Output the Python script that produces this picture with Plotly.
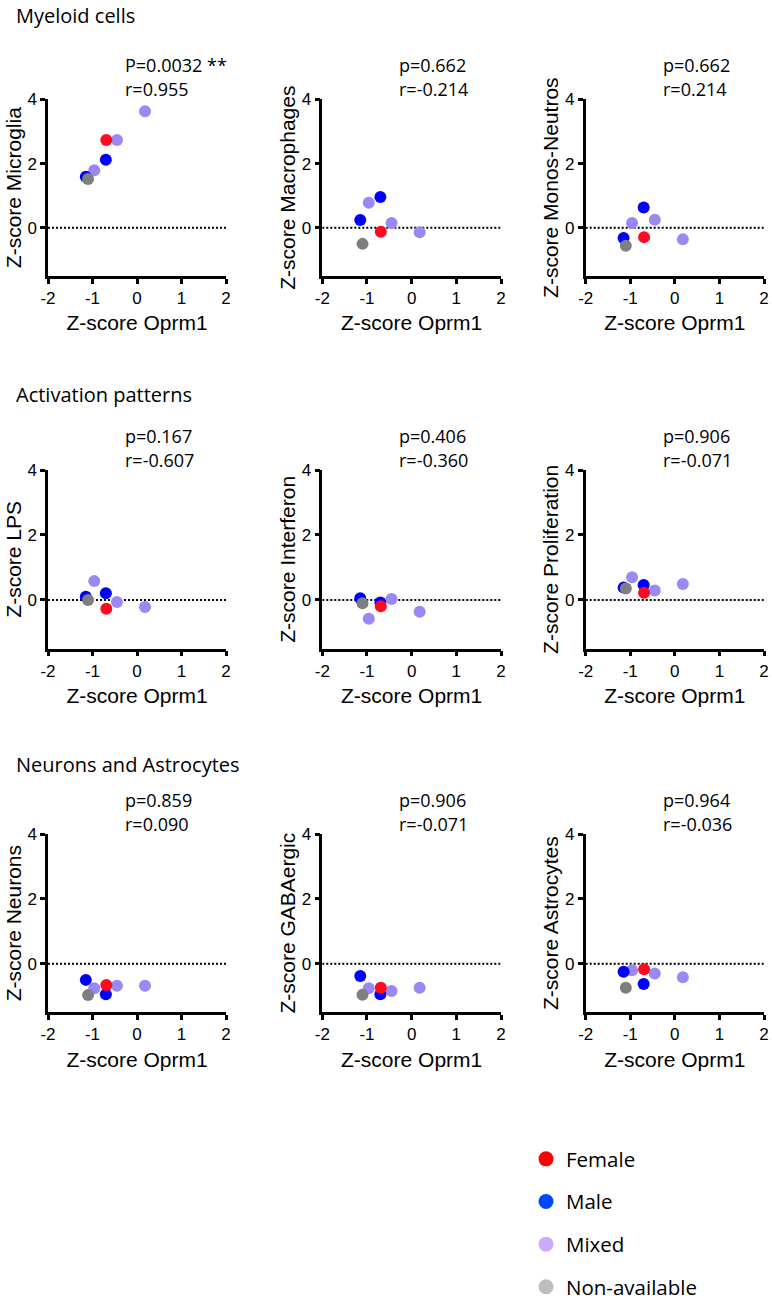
import plotly.graph_objects as go

W, H = 772, 1302

# ---------------- data ----------------
section_titles = ["Myeloid cells", "Activation patterns", "Neurons and Astrocytes"]
panel_names = ["Microglia", "Macrophages", "Monos-Neutros",
               "LPS", "Interferon", "Proliferation",
               "Neurons", "GABAergic", "Astrocytes"]
p_labels = ["P=0.0032 **", "p=0.662", "p=0.662",
            "p=0.167", "p=0.406", "p=0.906",
            "p=0.859", "p=0.906", "p=0.964"]
r_labels = ["r=0.955", "r=-0.214", "r=0.214",
            "r=-0.607", "r=-0.360", "r=-0.071",
            "r=0.090", "r=-0.071", "r=-0.036"]

# Z-score Oprm1 (x) per sample group
oprm1_female = [-0.69]
oprm1_male = [-1.15, -0.70]
oprm1_mixed = [-0.96, -0.45, 0.18]
oprm1_na = [-1.10]

# Z-score of each signature (y), one list per panel
z_female = [[2.73], [-0.12], [-0.29],
            [-0.27], [-0.19], [0.22],
            [-0.66], [-0.74], [-0.17]]
z_male = [[1.59, 2.12], [0.24, 0.96], [-0.32, 0.63],
          [0.10, 0.21], [0.05, -0.08], [0.38, 0.46],
          [-0.50, -0.94], [-0.38, -0.94], [-0.25, -0.63]]
z_mixed = [[1.79, 2.73, 3.63], [0.78, 0.15, -0.14], [0.15, 0.25, -0.36],
           [0.58, -0.06, -0.22], [-0.58, 0.03, -0.36], [0.70, 0.29, 0.49],
           [-0.76, -0.68, -0.68], [-0.76, -0.84, -0.74], [-0.20, -0.30, -0.42]]
z_na = [[1.52], [-0.50], [-0.56],
        [0.00], [-0.10], [0.35],
        [-0.97], [-0.96], [-0.74]]

legend_names = ["Female", "Male", "Mixed", "Non-available"]
legend_colors = ["#FF0000", "#0048FF", "#CBAAFD", "#BDBDBD"]
point_colors = {"Mixed": "#9A88F3", "Male": "#0000FF", "Female": "#FF0A1E", "NA": "#7F7F7F"}

x_ticks = [-2, -1, 0, 1, 2]
x_ticktext = ["-2", "-1", "0", "1", "2"]
y_ticks = [0, 2, 4]

# ---------------- layout geometry (pixels) ----------------
cols_px = [(48, 226), (322.3, 501), (585.7, 764)]
rows_px = [(99.3, 276), (470, 648.7), (834, 1012.3)]
section_y_px = [15, 394, 764]

AXFONT = "Liberation Sans, Arial, sans-serif"
TXTFONT = "Open Sans, Noto Sans, sans-serif"

fig = go.Figure()
layout = dict(width=W, height=H, margin=dict(l=0, r=0, t=0, b=0, autoexpand=False),
              plot_bgcolor="white", paper_bgcolor="white", showlegend=True)
shapes, annotations = [], []

for i, name in enumerate(panel_names):
    r, c = divmod(i, 3)
    x0, x1 = cols_px[c]
    y0, y1 = rows_px[r]
    k = "" if i == 0 else str(i + 1)
    xa, ya = "x" + k, "y" + k
    layout["xaxis" + k] = dict(
        domain=[x0 / W, x1 / W], anchor=ya, range=[-2, 2],
        tickvals=x_ticks, ticktext=x_ticktext,
        showline=True, linecolor="black", linewidth=2.5,
        ticks="outside", ticklen=5, tickwidth=2.5, tickcolor="black",
        showgrid=False, zeroline=False, automargin=False,
        tickfont=dict(family=AXFONT, size=17, color="black"),
        title=dict(text="Z-score Oprm1", standoff=9,
                   font=dict(family=AXFONT, size=21, color="black")))
    layout["yaxis" + k] = dict(
        domain=[1 - y1 / H, 1 - y0 / H], anchor=xa, range=[-1.5, 4],
        tickvals=y_ticks, showline=True, linecolor="black", linewidth=2.5,
        ticks="outside", ticklen=5, tickwidth=2.5, tickcolor="black",
        showgrid=False, zeroline=False, automargin=False,
        tickfont=dict(family=AXFONT, size=17, color="black"),
        title=dict(text="Z-score " + name, standoff=1,
                   font=dict(family=AXFONT, size=21, color="black")))
    shapes.append(dict(type="line", xref=xa, yref=ya, x0=-2, x1=2, y0=0, y1=0,
                       line=dict(color="black", width=2, dash="2px,2px"), layer="below"))
    for xs, ys, key in [(oprm1_mixed, z_mixed[i], "Mixed"),
                        (oprm1_male, z_male[i], "Male"),
                        (oprm1_female, z_female[i], "Female"),
                        (oprm1_na, z_na[i], "NA")]:
        fig.add_trace(go.Scatter(x=xs, y=ys, mode="markers", xaxis=xa, yaxis=ya,
                                 marker=dict(size=12, color=point_colors[key], line=dict(width=0)),
                                 showlegend=False, hoverinfo="skip"))
    dh = y1 - y0
    annotations.append(dict(text=p_labels[i], xref=xa + " domain", yref=ya + " domain",
                            x=75 / (x1 - x0), y=1 + 34 / dh, xanchor="left", yanchor="middle",
                            showarrow=False, font=dict(family=TXTFONT, size=18, color="black")))
    annotations.append(dict(text=r_labels[i], xref=xa + " domain", yref=ya + " domain",
                            x=75 / (x1 - x0), y=1 + 10 / dh, xanchor="left", yanchor="middle",
                            showarrow=False, font=dict(family=TXTFONT, size=18, color="black")))

for t, yp in zip(section_titles, section_y_px):
    annotations.append(dict(text=t, xref="paper", yref="paper", x=14 / W, y=1 - yp / H,
                            xanchor="left", yanchor="middle", showarrow=False,
                            font=dict(family=TXTFONT, size=20, color="black")))

for nm, col in zip(legend_names, legend_colors):
    fig.add_trace(go.Scatter(x=[None], y=[None], mode="markers", name=nm,
                             marker=dict(size=15, color=col), legendgroup=nm,
                             showlegend=True))

layout["legend"] = dict(x=526 / W, y=1 - 1139 / H, xanchor="left", yanchor="top",
                        font=dict(family=TXTFONT, size=20.5, color="black"),
                        tracegroupgap=13, itemsizing="trace", bgcolor="rgba(0,0,0,0)",
                        maxheight=400)
layout["shapes"] = shapes
layout["annotations"] = annotations
fig.update_layout(**layout)
fig.write_html("out.html", config={"displayModeBar": False},
               post_script="document.body.style.margin='0';document.body.style.padding='0';")
